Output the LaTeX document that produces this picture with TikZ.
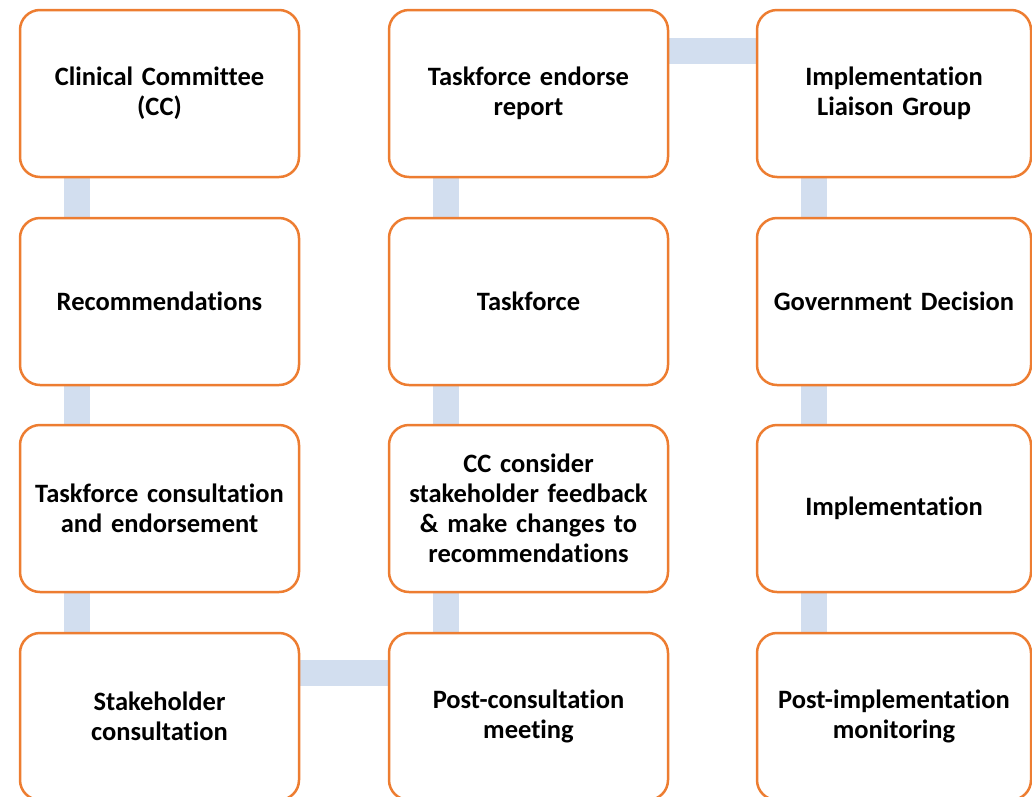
\documentclass[tikz,border=0pt]{standalone}
\usepackage{fontspec}
\setmainfont{Carlito}[WordSpace=0.85, Ligatures=CommonOff]
\usetikzlibrary{backgrounds}
\definecolor{boxorange}{RGB}{237,125,49}
\definecolor{connblue}{RGB}{210,222,239}
\begin{document}
\begin{tikzpicture}[x=1pt,y=-1pt,
  stepbox/.style={draw=boxorange, line width=2.5pt, fill=white, rounded corners=20pt,
    minimum width=279pt, minimum height=167pt, inner sep=0pt,
    text width=270pt, align=center,
    font=\fontsize{26.5}{30}\selectfont\bfseries},
  lastbox/.style={stepbox, minimum width=274pt},
  conn/.style={draw=connblue, line width=26pt}]
\useasboundingbox (0,0) rectangle (1032,796);
\node[stepbox] (cc)  at (159.5,93.5)  {Clinical Committee\\(CC)};
\node[stepbox] (rec) at (159.5,301.5) {Recommendations};
\node[stepbox] (tce) at (159.5,508.5) {Taskforce consultation\\and endorsement};
\node[stepbox] (sc)  at (159.5,716.5) {Stakeholder\\consultation};
\node[stepbox] (pcm) at (528.5,716.5) {Post-consultation\\meeting};
\node[stepbox] (ccf) at (528.5,508.5) {CC consider\\stakeholder feedback\\\& make changes to\\recommendations};
\node[stepbox] (tf)  at (528.5,301.5) {Taskforce};
\node[stepbox] (ter) at (528.5,93.5)  {Taskforce endorse\\report};
\node[lastbox] (ilg) at (894,93.5)    {Implementation\\Liaison Group};
\node[lastbox] (gd)  at (894,301.5)   {Government Decision};
\node[lastbox] (imp) at (894,508.5)   {Implementation};
\node[lastbox] (pim) at (894,716.5)   {Post-implementation\\monitoring};
\begin{scope}[on background layer]
\draw[conn] ([xshift=58pt]cc.south west) -- ([xshift=58pt]rec.north west);
\draw[conn] ([xshift=58pt]rec.south west) -- ([xshift=58pt]tce.north west);
\draw[conn] ([xshift=58pt]tce.south west) -- ([xshift=58pt]sc.north west);
\draw[conn] ([yshift=-41pt]sc.north east) -- ([yshift=-41pt]pcm.north west);
\draw[conn] ([xshift=58pt]pcm.north west) -- ([xshift=58pt]ccf.south west);
\draw[conn] ([xshift=58pt]ccf.north west) -- ([xshift=58pt]tf.south west);
\draw[conn] ([xshift=58pt]tf.north west) -- ([xshift=58pt]ter.south west);
\draw[conn] ([yshift=-42pt]ter.north east) -- ([yshift=-42pt]ilg.north west);
\draw[conn] ([xshift=58pt]ilg.south west) -- ([xshift=58pt]gd.north west);
\draw[conn] ([xshift=58pt]gd.south west) -- ([xshift=58pt]imp.north west);
\draw[conn] ([xshift=58pt]imp.south west) -- ([xshift=58pt]pim.north west);
\end{scope}
\end{tikzpicture}
\end{document}
